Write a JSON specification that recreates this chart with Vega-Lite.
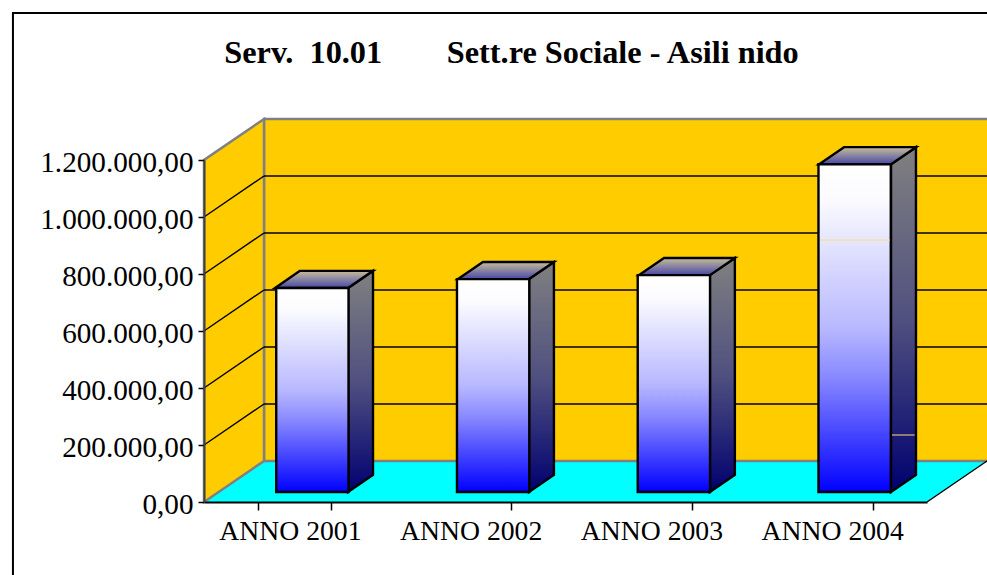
{
"$schema":"https://vega.github.io/schema/vega-lite/v6.json",
"width":723,"height":342,
"autosize":{"type":"none"},
"padding":{"left":204,"top":160,"right":60,"bottom":73},
"background":"white",
"config":{"view":{"stroke":null},"locale":{"number":{"decimal":",","thousands":".","grouping":[3],"currency":["","€"]}}},
"title":{"text":"Serv.\u00a0\u00a010.01\u00a0\u00a0\u00a0\u00a0\u00a0\u00a0\u00a0\u00a0Sett.re Sociale - Asili nido","font":"Liberation Serif","fontSize":32.3,"fontWeight":"bold","color":"black","anchor":"middle","dx":-54,"offset":-57},
"datasets":{
"bars":[{"anno":"ANNO 2001","valore":716000},{"anno":"ANNO 2002","valore":747000},{"anno":"ANNO 2003","valore":761000},{"anno":"ANNO 2004","valore":1150000}],
"side":[
{"anno":"ANNO 2001","p":0.797,"top":716000,"base":35088},{"anno":"ANNO 2001","p":0.935,"top":776000,"base":95088},
{"anno":"ANNO 2002","p":1.798,"top":747000,"base":35088},{"anno":"ANNO 2002","p":1.936,"top":807000,"base":95088},
{"anno":"ANNO 2003","p":2.799,"top":761000,"base":35088},{"anno":"ANNO 2003","p":2.937,"top":821000,"base":95088},
{"anno":"ANNO 2004","p":3.801,"top":1150000,"base":35088},{"anno":"ANNO 2004","p":3.939,"top":1210000,"base":95088}],
"cap":[
{"anno":"ANNO 2001","p":0.393,"p2":0.797,"lvl":716000},{"anno":"ANNO 2001","p":0.531,"p2":0.935,"lvl":776000},
{"anno":"ANNO 2002","p":1.405,"p2":1.798,"lvl":747000},{"anno":"ANNO 2002","p":1.543,"p2":1.936,"lvl":807000},
{"anno":"ANNO 2003","p":2.407,"p2":2.799,"lvl":761000},{"anno":"ANNO 2003","p":2.545,"p2":2.937,"lvl":821000},
{"anno":"ANNO 2004","p":3.403,"p2":3.801,"lvl":1150000},{"anno":"ANNO 2004","p":3.541,"p2":3.939,"lvl":1210000}],
"grid":[{"tick":200000,"back":343860},{"tick":400000,"back":543860},{"tick":600000,"back":743860},{"tick":800000,"back":943860},{"tick":1000000,"back":1143860}]
},
"resolve":{"scale":{"x":"independent"},"axis":{"x":"independent"}},
"layer":[
{"layer":[
{"data":{"values":[{"a":-1.057,"b":6,"c":1715789,"d":-420000}]},"mark":{"type":"rect","fill":null,"stroke":"black","strokeWidth":2},
 "encoding":{"x":{"field":"a","type":"quantitative","axis":null,"scale":{"domain":[0,4],"nice":false,"zero":false}},"x2":{"field":"b"},"y":{"field":"c","type":"quantitative","scale":{"domain":[0,1200000],"nice":false},"axis":{"title":null,"values":[0,200000,400000,600000,800000,1000000,1200000],"format":",.2f","grid":false,"labelFont":"Liberation Serif","labelFontSize":29.2,"labelOffset":2,"labelColor":"black","labelPadding":5,"domainColor":"#404040","domainWidth":2,"tickColor":"black","tickWidth":1.5,"tickSize":6,"zindex":1}},"y2":{"field":"d"}}},
{"data":{"values":[{"p":0,"p2":4,"lvl":0},{"p":0.332,"p2":4.332,"lvl":143860}]},"mark":{"type":"area","orient":"horizontal","fill":"#00ffff"},
 "encoding":{"x":{"field":"p","type":"quantitative","stack":null,"axis":null,"scale":{"domain":[0,4],"nice":false,"zero":false}},"x2":{"field":"p2"},"y":{"field":"lvl","type":"quantitative","scale":{"domain":[0,1200000],"nice":false}}}},
{"data":{"values":[{"a":0.332,"b":4.5,"c":143860,"d":1343860}]},"mark":{"type":"rect","fill":"#ffcc00","stroke":"#808080","strokeWidth":2.5},
 "encoding":{"x":{"field":"a","type":"quantitative","axis":null,"scale":{"domain":[0,4],"nice":false,"zero":false}},"x2":{"field":"b"},"y":{"field":"c","type":"quantitative","scale":{"domain":[0,1200000],"nice":false}},"y2":{"field":"d"}}},
{"data":{"values":[{"p":0,"lo":0,"hi":1200000},{"p":0.332,"lo":143860,"hi":1343860}]},"mark":{"type":"area","fill":"#ffcc00","stroke":"#808080","strokeWidth":2.5},
 "encoding":{"x":{"field":"p","type":"quantitative","axis":null,"scale":{"domain":[0,4],"nice":false,"zero":false}},"y":{"field":"lo","type":"quantitative","stack":null,"scale":{"domain":[0,1200000],"nice":false}},"y2":{"field":"hi"}}},
{"data":{"values":[{"p":4,"p2":4.332,"lo":0,"hi":143860}]},"mark":{"type":"rule","stroke":"black","strokeWidth":1.4},
 "encoding":{"x":{"field":"p","type":"quantitative","axis":null,"scale":{"domain":[0,4],"nice":false,"zero":false}},"x2":{"field":"p2"},"y":{"field":"lo","type":"quantitative","scale":{"domain":[0,1200000],"nice":false}},"y2":{"field":"hi"}}},
{"data":{"name":"grid"},"mark":{"type":"rule","stroke":"black","strokeWidth":1.4},
 "encoding":{"x":{"datum":0,"type":"quantitative","axis":null,"scale":{"domain":[0,4],"nice":false,"zero":false}},"x2":{"datum":0.332},"y":{"field":"tick","type":"quantitative","scale":{"domain":[0,1200000],"nice":false}},"y2":{"field":"back"}}},
{"data":{"name":"grid"},"mark":{"type":"rule","stroke":"black","strokeWidth":1.4},
 "encoding":{"x":{"datum":0.332,"type":"quantitative","axis":null,"scale":{"domain":[0,4],"nice":false,"zero":false}},"x2":{"datum":4.5},"y":{"field":"back","type":"quantitative","scale":{"domain":[0,1200000],"nice":false}}}},
{"data":{"name":"side"},"mark":{"type":"area","yOffset":-10,"stroke":"black","strokeWidth":2.4,"fill":{"gradient":"linear","x1":0,"y1":0,"x2":0,"y2":1,"stops":[{"offset":0,"color":"#808080"},{"offset":0.5,"color":"#505080"},{"offset":1,"color":"#000070"}]}},
 "encoding":{"x":{"field":"p","type":"quantitative","axis":null,"scale":{"domain":[0,4],"nice":false,"zero":false}},"y":{"field":"top","type":"quantitative","stack":null,"scale":{"domain":[0,1200000],"nice":false}},"y2":{"field":"base"},"detail":{"field":"anno"}}},
{"data":{"name":"cap"},"mark":{"type":"area","orient":"horizontal","yOffset":-10,"stroke":"black","strokeWidth":2.4,"fill":{"gradient":"linear","x1":0,"y1":0,"x2":0,"y2":1,"stops":[{"offset":0,"color":"#c8bd9a"},{"offset":1,"color":"#4848a8"}]}},
 "encoding":{"x":{"field":"p","type":"quantitative","stack":null,"axis":null,"scale":{"domain":[0,4],"nice":false,"zero":false}},"x2":{"field":"p2"},"y":{"field":"lvl","type":"quantitative","scale":{"domain":[0,1200000],"nice":false}},"detail":{"field":"anno"}}}
]},
{"data":{"name":"bars"},"mark":{"type":"bar","xOffset":18,"yOffset":-10,"stroke":"black","strokeWidth":2.4,"fill":{"gradient":"linear","x1":0,"y1":0,"x2":0,"y2":1,"stops":[{"offset":0,"color":"#ffffff"},{"offset":0.1,"color":"#fcfcff"},{"offset":0.5,"color":"#b8b8ff"},{"offset":0.65,"color":"#8888ff"},{"offset":1,"color":"#0000ff"}]}},
 "encoding":{
 "x":{"field":"anno","type":"nominal","scale":{"paddingInner":0.6,"paddingOuter":0.3},"axis":{"title":null,"labelAngle":0,"labelFont":"Liberation Serif","labelFontSize":27.7,"labelOffset":-4.5,"labelColor":"black","labelPadding":7,"domainColor":"black","domainWidth":2,"tickColor":"black","tickWidth":1.5,"tickSize":8,"tickBand":"extent","zindex":1}},
 "y":{"field":"valore","type":"quantitative","stack":null,"scale":{"domain":[0,1200000],"nice":false}},"y2":{"datum":35088}}},
{"data":{"values":[{"p":3.408,"p2":3.795,"lvl":884000},{"p":3.806,"p2":3.932,"lvl":200000}]},"mark":{"type":"rule","yOffset":-10,"stroke":"#ffe070","strokeWidth":1},
 "encoding":{"x":{"field":"p","type":"quantitative","axis":null,"scale":{"domain":[0,4],"nice":false,"zero":false}},"x2":{"field":"p2"},"y":{"field":"lvl","type":"quantitative","scale":{"domain":[0,1200000],"nice":false}}}}
]
}
